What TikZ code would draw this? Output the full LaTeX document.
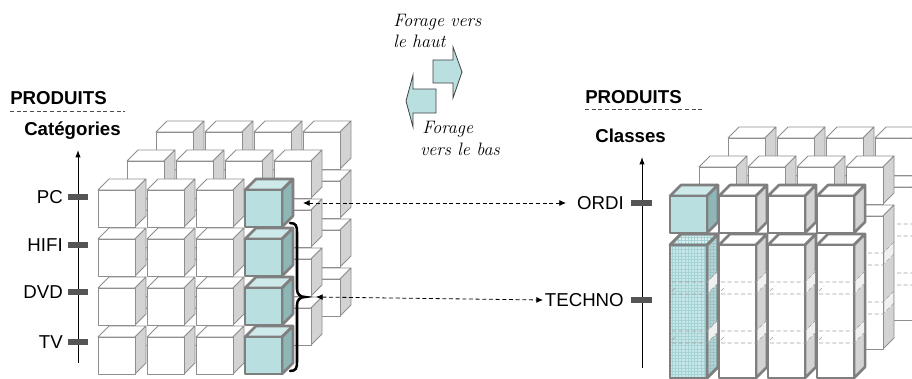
\documentclass[tikz,border=0pt]{standalone}
\usepackage{fontspec}
\newfontfamily\sansf{Liberation Sans}
\usetikzlibrary{arrows.meta}
\definecolor{cline}{HTML}{8E8E8E}
\definecolor{cside}{HTML}{D3D3D3}
\definecolor{hfront}{HTML}{B9DFE1}
\definecolor{htop}{HTML}{CDE9EA}
\definecolor{hside}{HTML}{8FB6B7}
\definecolor{bline}{HTML}{7F7F7F}
\definecolor{tickc}{HTML}{555555}
\definecolor{gfront}{HTML}{C8E7E9}
\definecolor{gtop}{HTML}{DCF0F1}
\definecolor{gside}{HTML}{B3D8DA}
\definecolor{gline}{HTML}{A5D2D5}
\definecolor{barfill}{HTML}{B9DFE1}
\newcommand\cubebox[4]{%
  \path[#4 top] (#1,#2) -- ++(11,-11) -- ++(37,0) -- ++(-11,11) -- cycle;
  \path[#4 side] (#1+37,#2) -- ++(11,-11) -- ++(0,#3) -- ++(-11,11) -- cycle;
  \path[#4 front] (#1,#2) rectangle ++(37,#3);
}
\newcommand\cubeinner[2]{%
  \foreach \k in {1,2}{%
    \pgfmathsetmacro\yb{#2+49*\k-12}%
    \pgfmathsetmacro\yt{#2+49*\k}%
    \fill[patch] (#1+38.5,\yb-1) -- (#1+47,\yb-9.5) -- (#1+47,\yt-10) -- (#1+38.5,\yt-1.5) -- cycle;
    \draw[idash] (#1+2,\yb) -- (#1+37,\yb) -- ++(11,-11);
    \draw[idash] (#1+2,\yt) -- (#1+37,\yt) -- ++(11,-11);
    \draw[idash] (#1+2,\yt-3) -- (#1+7,\yt-8);
  }%
}
\newcommand\gridbox[3]{%
  \cubebox{#1}{#2}{#3}{gb}
  \begin{scope}
    \clip (#1,#2) rectangle ++(37,#3);
    \draw[gline,line width=0.25pt,step=2.4pt] (#1,#2) grid ++(37,#3);
  \end{scope}
  \begin{scope}
    \clip (#1+37,#2) -- ++(11,-11) -- ++(0,#3) -- ++(-11,11) -- cycle;
    \draw[gline!80!gray,line width=0.25pt,step=2.4pt] (#1+37,#2-11) grid ++(11,#3+11);
  \end{scope}
  \begin{scope}
    \clip (#1,#2) -- ++(11,-11) -- ++(37,0) -- ++(-11,11) -- cycle;
    \draw[gline,line width=0.25pt,step=2.4pt] (#1,#2-11) grid ++(48,11);
  \end{scope}
  \path[gb top,fill=none] (#1,#2) -- ++(11,-11) -- ++(37,0) -- ++(-11,11) -- cycle;
  \path[gb side,fill=none] (#1+37,#2) -- ++(11,-11) -- ++(0,#3) -- ++(-11,11) -- cycle;
  \path[gb front,fill=none] (#1,#2) rectangle ++(37,#3);
}
\begin{document}
\begin{tikzpicture}[x=0.75pt,y=-0.75pt,
  pl top/.style={fill=white,draw=cline,line width=0.6pt,line join=round},
  pl side/.style={fill=cside,draw=cline,line width=0.6pt,line join=round},
  pl front/.style={fill=white,draw=cline,line width=0.6pt,line join=round},
  hl top/.style={fill=htop,draw=bline,line width=1.9pt,line join=round},
  hl side/.style={fill=hside,draw=bline,line width=1.9pt,line join=round},
  hl front/.style={fill=hfront,draw=bline,line width=1.9pt,line join=round},
  bw top/.style={fill=white,draw=bline,line width=1.9pt,line join=round},
  bw side/.style={fill=cside,draw=bline,line width=1.9pt,line join=round},
  bw front/.style={fill=white,draw=bline,line width=1.9pt,line join=round},
  gb top/.style={fill=gtop,draw=bline,line width=1.9pt,line join=round},
  gb side/.style={fill=gside,draw=bline,line width=1.9pt,line join=round},
  gb front/.style={fill=gfront,draw=bline,line width=1.9pt,line join=round},
  patch/.style={fill=cside!35!white},
  idash/.style={draw=gray!75,line width=0.45pt,dash pattern=on 3pt off 2pt},
  hd/.style={font=\sansf\bfseries\fontsize{14}{16}\selectfont,inner sep=0pt},
  lab/.style={font=\sansf\fontsize{14}{16}\selectfont,inner sep=0pt},
  itx/.style={font=\itshape\fontsize{13.5}{16}\selectfont,inner sep=0pt},
  sep/.style={draw=black!70,line width=0.6pt,dash pattern=on 3pt off 2pt},
  axis/.style={draw=black,line width=0.7pt,-{Latex[length=5.5pt,width=4pt]}},
  tickbar/.style={fill=tickc},
  darr/.style={draw=black,line width=0.6pt,dash pattern=on 3pt off 2pt,
     {Latex[length=5pt,width=4.5pt]}-{Latex[length=5pt,width=4.5pt]}},
  barrow/.style={fill=barfill,draw=black!75,line width=0.6pt,line join=miter},
  bracec/.style={draw=black,line width=1.9pt,line cap=round}]
\useasboundingbox (0,0) rectangle (912,378);
\clip (0,0) rectangle (912,378);

% ---------- left cube ----------
\foreach \L in {2,1}{
  \foreach \c in {0,...,3}{
    \foreach \r in {0,...,3}{
      \pgfmathsetmacro\xx{98+49*\c+29*\L}
      \pgfmathsetmacro\yy{190+49*\r-29*\L}
      \cubebox{\xx}{\yy}{37}{pl}
    }}}
\foreach \c in {0,1,2}{
  \foreach \r in {0,...,3}{
    \pgfmathsetmacro\xx{98+49*\c}
    \pgfmathsetmacro\yy{190+49*\r}
    \cubebox{\xx}{\yy}{37}{pl}
  }}
\foreach \r in {0,...,3}{
  \pgfmathsetmacro\yy{190+49*\r}
  \cubebox{245}{\yy}{37}{hl}
}

% ---------- right cube ----------
\foreach \L in {2,1}{
  \foreach \c in {0,...,3}{
    \pgfmathsetmacro\xx{670+49*\c+29*\L}
    \pgfmathsetmacro\yy{196-29*\L}
    \pgfmathsetmacro\yz{245-29*\L}
    \cubebox{\xx}{\yy}{37}{pl}
    \cubebox{\xx}{\yz}{133}{pl}
    \cubeinner{\xx}{\yz}
  }}
\cubebox{670}{196}{37}{hl}
\gridbox{670}{245}{133}
\cubeinner{670}{245}
\foreach \c in {1,2,3}{
  \pgfmathsetmacro\xx{670+49*\c}
  \cubebox{\xx}{196}{37}{bw}
  \cubebox{\xx}{245}{133}{bw}
  \cubeinner{\xx}{245}
}

% ---------- brace ----------
\draw[bracec] (290,223) .. controls (296,223) and (297,226) .. (297,232) -- (297,289)
  .. controls (297,294) and (300,297) .. (305,297)
  .. controls (300,297) and (297,300) .. (297,305) -- (297,362)
  .. controls (297,368) and (296,371) .. (290,371);

% ---------- left titles and axis ----------
\node[hd,anchor=base west] (prodL) at (10,104) {PRODUITS};
\coordinate (sepL1) at (10,111); \coordinate (sepL2) at (125,111);
\draw[sep] (sepL1) -- (sepL2);
\node[hd,anchor=base west] (cat) at (24,135) {Catégories};
\coordinate (axLb) at (78,363); \coordinate (axLt) at (78,150);
\draw[axis] (axLb) -- (axLt);
\foreach \yv/\nm/\tx in {197/pc/PC,245/hifi/HIFI,292/dvd/DVD,342/tv/TV}{
  \fill[tickbar] (68,\yv-3) rectangle (88,\yv+3);
  \node[lab,anchor=east] (\nm) at (63,\yv) {\tx};
}

% ---------- right titles and axis ----------
\node[hd,anchor=base west] (prodR) at (585,103) {PRODUITS};
\coordinate (sepR1) at (585,109); \coordinate (sepR2) at (702,109);
\draw[sep] (sepR1) -- (sepR2);
\node[hd,anchor=base west] (cla) at (595,142) {Classes};
\coordinate (axRb) at (642,368); \coordinate (axRt) at (642,157);
\draw[axis] (axRb) -- (axRt);
\fill[tickbar] (631,200) rectangle (652,206);
\fill[tickbar] (631,297) rectangle (652,303);
\node[lab,anchor=east] (ordi) at (624,203) {ORDI};
\node[lab,anchor=east] (techno) at (624,300) {TECHNO};

% ---------- dashed links ----------
\coordinate (d1a) at (303,203); \coordinate (d1b) at (566,203);
\draw[darr] (d1a) -- (d1b);
\coordinate (d2a) at (316,297); \coordinate (d2b) at (543,300);
\draw[darr] (d2a) -- (d2b);

% ---------- drill arrows ----------
\node[itx,anchor=base west] (up1) at (393,27) {Forage vers};
\node[itx,anchor=base west] (up2) at (393,48) {le haut};
\path[barrow] (433,60) -- (453,60) -- (453,47) -- (462,72) -- (453,98) -- (453,83) -- (433,83) -- cycle;
\path[barrow] (436,89) -- (413,89) -- (413,75) -- (406,101) -- (413,127) -- (413,113) -- (436,113) -- cycle;
\node[itx,anchor=base west] (down1) at (422,133) {Forage};
\node[itx,anchor=base west] (down2) at (420,155) {vers le bas};
\end{tikzpicture}
\end{document}
